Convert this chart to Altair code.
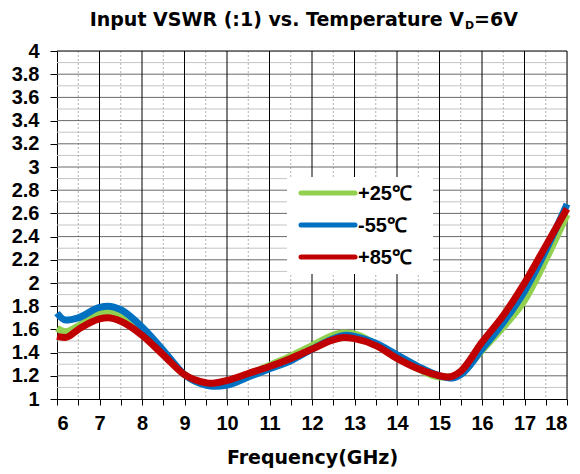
import altair as alt
import pandas as pd

# ---- data ----
series_names = ["+25℃", "-55℃", "+85℃"]
series_colors = ["#92D050", "#0070C0", "#C00000"]

freq_p25 = [6, 6.2, 6.5, 7, 7.2, 7.5, 8, 8.5, 9, 9.5, 9.7, 10, 10.5, 11, 11.5, 12, 12.5, 12.7, 13, 13.5, 14, 14.5, 15, 15.3, 15.5, 16, 16.5, 17, 17.5, 18]
vswr_p25 = [1.61, 1.58, 1.63, 1.74, 1.75, 1.72, 1.58, 1.40, 1.21, 1.13, 1.13, 1.15, 1.21, 1.29, 1.37, 1.46, 1.55, 1.57, 1.56, 1.47, 1.36, 1.26, 1.19, 1.19, 1.22, 1.42, 1.62, 1.85, 2.20, 2.59]

freq_m55 = [6, 6.2, 6.5, 7, 7.2, 7.5, 8, 8.5, 9, 9.5, 9.7, 10, 10.5, 11, 11.5, 12, 12.5, 12.8, 13, 13.5, 14, 14.5, 15, 15.3, 15.5, 16, 16.5, 17, 17.5, 18]
vswr_m55 = [1.74, 1.68, 1.70, 1.79, 1.80, 1.77, 1.62, 1.42, 1.21, 1.12, 1.11, 1.12, 1.19, 1.26, 1.33, 1.43, 1.52, 1.55, 1.54, 1.48, 1.38, 1.28, 1.20, 1.18, 1.21, 1.43, 1.66, 1.93, 2.28, 2.68]

freq_p85 = [6, 6.2, 6.5, 7, 7.2, 7.5, 8, 8.5, 9, 9.5, 9.6, 10, 10.5, 11, 11.5, 12, 12.5, 12.75, 13, 13.5, 14, 14.5, 15, 15.2, 15.5, 16, 16.5, 17, 17.5, 18]
vswr_p85 = [1.54, 1.53, 1.60, 1.69, 1.70, 1.67, 1.55, 1.38, 1.21, 1.14, 1.135, 1.16, 1.22, 1.28, 1.35, 1.43, 1.51, 1.53, 1.52, 1.46, 1.35, 1.26, 1.20, 1.19, 1.24, 1.49, 1.72, 2.00, 2.32, 2.64]

x_major = list(range(6, 19))
x_minor = [6.5 + i for i in range(12)]
x_ticks = sorted(x_major + x_minor)
y_major = [round(1 + 0.2 * i, 1) for i in range(16)]
y_minor = [round(1.1 + 0.2 * i, 1) for i in range(15)]

title_main = "Input VSWR (:1) vs. Temperature V"
title_sub = "D"
title_tail = "=6V"
x_title = "Frequency(GHz)"

TICK_FONT = "Liberation Sans, Arial, sans-serif"
TITLE_FONT = "DejaVu Sans"

# ---- build tables ----
rows = []
for name, fs, vs in [(series_names[0], freq_p25, vswr_p25),
                     (series_names[1], freq_m55, vswr_m55),
                     (series_names[2], freq_p85, vswr_p85)]:
    for f, v in zip(fs, vs):
        rows.append({"series": name, "freq": f, "vswr": v})
df = pd.DataFrame(rows)

xs = alt.Scale(domain=[6, 18], nice=False, zero=False)
ys = alt.Scale(domain=[1, 4], nice=False, zero=False)
cs = alt.Scale(domain=series_names, range=series_colors)

x_axis = alt.Axis(values=x_ticks, labelExpr="datum.value % 1 == 0 ? datum.label : ''",
                  format="~g", grid=False, domainColor="black", tickColor="black",
                  tickSize=6, labelFont=TICK_FONT, labelFontSize=20, labelFontWeight="bold",
                  labelColor="black", labelPadding=8, labelOverlap=False,
                  title=x_title, titleFont=TITLE_FONT,
                  titleFontSize=19, titleFontWeight="bold", titleColor="black", titlePadding=15)
y_axis = alt.Axis(values=y_major, format="~g", grid=False, domainColor="black",
                  tickColor="black", tickSize=7, labelFont=TICK_FONT, labelFontSize=20,
                  labelFontWeight="bold", labelColor="black", labelPadding=11,
                  labelOverlap=False, title=None)

def hrules(vals, color):
    return alt.Chart(pd.DataFrame({"v": vals})).mark_rule(color=color, strokeWidth=1).encode(
        y=alt.Y("v:Q", scale=ys, axis=y_axis))

def vrules(vals, color, dash=None):
    kw = {"color": color, "strokeWidth": 1}
    if dash:
        kw["strokeDash"] = dash
    return alt.Chart(pd.DataFrame({"v": vals})).mark_rule(**kw).encode(
        x=alt.X("v:Q", scale=xs, axis=x_axis))

grid = [
    hrules(y_minor, "#c4c4c4"),
    vrules(x_minor, "#b0b0b0", [2, 2]),
    hrules(y_major[1:-1], "#6a6a6a"),
    hrules(y_major[-1:], "#000000"),
    vrules(x_major[1:], "#000000"),
]

lines = []
for name in series_names:
    lines.append(
        alt.Chart(df).transform_filter(alt.datum.series == name)
        .mark_line(strokeWidth=7, interpolate="monotone")
        .encode(x=alt.X("freq:Q", scale=xs, axis=x_axis),
                y=alt.Y("vswr:Q", scale=ys, axis=y_axis),
                color=alt.Color("series:N", scale=cs, legend=None))
    )

one = pd.DataFrame({"k": [0]})
legend_layers = [
    alt.Chart(one).mark_rect(fill="white").encode(
        x=alt.value(230), x2=alt.value(376), y=alt.value(126), y2=alt.value(223))
]
for i, (name, col) in enumerate(zip(series_names, series_colors)):
    yy = 142 + 32 * i
    legend_layers.append(
        alt.Chart(one).mark_rule(color=col, strokeWidth=5, strokeCap="round").encode(
            x=alt.value(244), x2=alt.value(298), y=alt.value(yy)))
    legend_layers.append(
        alt.Chart(pd.DataFrame({"t": [name]})).mark_text(
            align="left", baseline="middle", font=TICK_FONT, fontSize=20,
            fontWeight="bold", color="black").encode(
            text="t:N", x=alt.value(301), y=alt.value(yy + 1)))

title_layers = [
    alt.Chart(pd.DataFrame({"t": [title_main]})).mark_text(
        align="right", baseline="alphabetic", font=TITLE_FONT, fontSize=19,
        fontWeight="bold", color="black").encode(text="t:N", x=alt.value(407), y=alt.value(-25)),
    alt.Chart(pd.DataFrame({"t": [title_sub]})).mark_text(
        align="left", baseline="alphabetic", font=TITLE_FONT, fontSize=11,
        fontWeight="bold", color="black").encode(text="t:N", x=alt.value(408), y=alt.value(-22)),
    alt.Chart(pd.DataFrame({"t": [title_tail]})).mark_text(
        align="left", baseline="alphabetic", font=TITLE_FONT, fontSize=19,
        fontWeight="bold", color="black").encode(text="t:N", x=alt.value(417), y=alt.value(-25)),
]

chart = alt.layer(*grid, *lines, *legend_layers, *title_layers).properties(
    width=510, height=348,
    autosize=alt.AutoSizeParams(type="none"),
    padding={"left": 49, "top": 43, "right": 5, "bottom": 70},
).configure_view(stroke=None).configure(background="white")

chart.save("out.html", embed_options={"renderer": "svg", "actions": False})
